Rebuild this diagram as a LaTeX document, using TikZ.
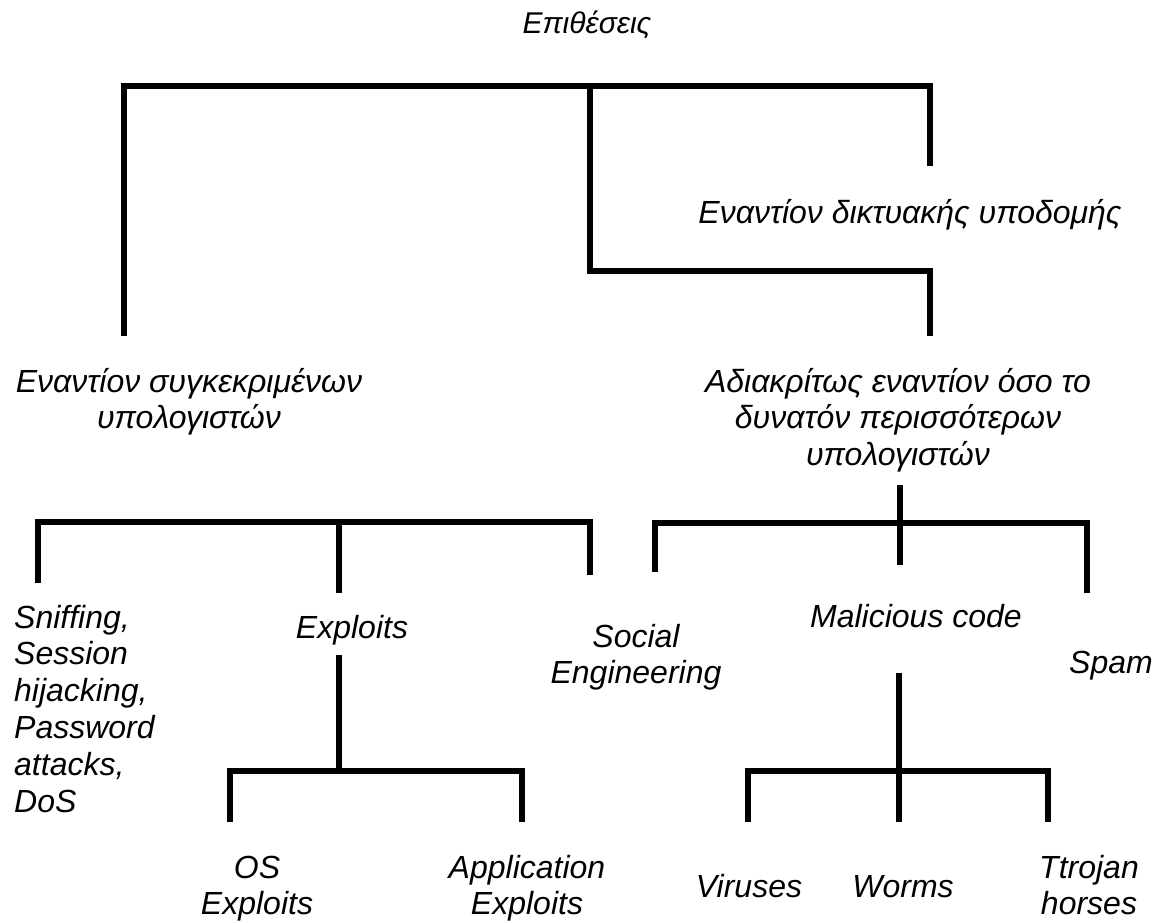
\documentclass[tikz,border=0pt]{standalone}
\usepackage{fontspec}
\setmainfont{Liberation Sans}
\begin{document}
\begin{tikzpicture}[x=1pt,y=-1pt,
  lbl/.style={font=\fontsize{32}{36.8}\selectfont\itshape, inner sep=0pt, anchor=base, align=center},
  lbll/.style={lbl, anchor=base west, align=left},
  bar/.style={line width=5.5pt, line join=miter, line cap=butt}]
\useasboundingbox (0,0) rectangle (1162,922);

% labels (positions give the baseline of the last line)
\node[lbl, font=\fontsize{30}{34.5}\selectfont\itshape]
            (root)   at (587,33)    {Επιθέσεις};
\node[lbl]  (net)    at (910,223)   {Εναντίον δικτυακής υποδομής};
\node[lbl]  (spec)   at (189,428.8) {Εναντίον συγκεκριμένων\\υπολογιστών};
\node[lbl]  (indis)  at (898,465.6) {Αδιακρίτως εναντίον όσο το\\δυνατόν περισσότερων\\υπολογιστών};
\node[lbll] (sniff)  at (14,812)    {Sniffing,\\Session\\hijacking,\\Password\\attacks,\\DoS};
\node[lbl]  (expl)   at (352,638)   {Exploits};
\node[lbl]  (social) at (636,683.8) {Social\\Engineering};
\node[lbl]  (mal)    at (916,627)   {Malicious code};
\node[lbl]  (spam)   at (1111,673)  {Spam};
\node[lbl]  (os)     at (257,914.8) {OS\\Exploits};
\node[lbl]  (app)    at (527,914.8) {Application\\Exploits};
\node[lbl]  (vir)    at (749,897)   {Viruses};
\node[lbl]  (worm)   at (903,897)   {Worms};
\node[lbl]  (troj)   at (1089,914.8){Ttrojan\\horses};

% bracket end points
\coordinate (a1) at (124,336);
\coordinate (a2) at (930,86);
\coordinate (a3) at (930,166);
\coordinate (b1) at (590,86);
\coordinate (b2) at (590,271);
\coordinate (b3) at (930,336);

\coordinate (c1) at (38,583);
\coordinate (c2) at (590,522);
\coordinate (c3) at (590,575);
\coordinate (c4) at (339,522);
\coordinate (c5) at (339,593);

\coordinate (d1) at (655,572);
\coordinate (d2) at (1087,523);
\coordinate (d3) at (1087,593);
\coordinate (d4) at (900,485);
\coordinate (d5) at (900,565);

\coordinate (e1) at (339,655);
\coordinate (e2) at (339,771);
\coordinate (e3) at (230,822);
\coordinate (e4) at (522,771);
\coordinate (e5) at (522,822);

\coordinate (f1) at (899,673);
\coordinate (f2) at (899,822);
\coordinate (f3) at (748,822);
\coordinate (f4) at (1048,771);
\coordinate (f5) at (1048,822);

% first level
\draw[bar] (a1) |- (a2) -- (a3);
\draw[bar] (b1) -- (b2) -| (b3);

% second level
\draw[bar] (c1) |- (c2) -- (c3);
\draw[bar] (c4) -- (c5);
\draw[bar] (d1) |- (d2) -- (d3);
\draw[bar] (d4) -- (d5);

% third level
\draw[bar] (e1) -- (e2);
\draw[bar] (e3) |- (e4) -- (e5);
\draw[bar] (f1) -- (f2);
\draw[bar] (f3) |- (f4) -- (f5);
\end{tikzpicture}
\end{document}
